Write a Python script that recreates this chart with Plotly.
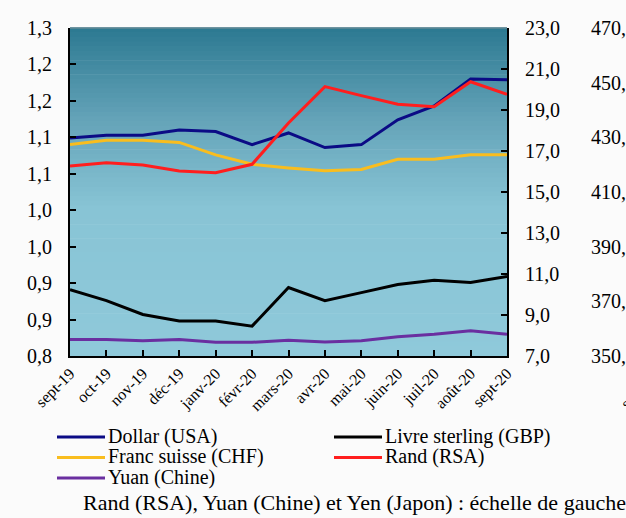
import plotly.graph_objects as go

# Monthly average exchange rates of the euro (1 EUR = ...)
months = ["sept-19", "oct-19", "nov-19", "déc-19", "janv-20", "févr-20", "mars-20",
          "avr-20", "mai-20", "juin-20", "juil-20", "août-20", "sept-20"]

dollar_usa = [1.099, 1.103, 1.103, 1.110, 1.108, 1.090, 1.106, 1.086, 1.090, 1.124, 1.143, 1.180, 1.179]
livre_gbp = [0.891, 0.876, 0.857, 0.848, 0.848, 0.841, 0.894, 0.876, 0.887, 0.898, 0.904, 0.901, 0.909]
franc_chf = [1.090, 1.096, 1.096, 1.093, 1.076, 1.063, 1.058, 1.054, 1.056, 1.070, 1.070, 1.076, 1.076]
rand_rsa = [16.27, 16.43, 16.32, 16.02, 15.94, 16.35, 18.37, 20.14, 19.70, 19.28, 19.16, 20.38, 19.77]
yuan_chine = [7.81, 7.81, 7.75, 7.81, 7.67, 7.67, 7.77, 7.68, 7.75, 7.94, 8.06, 8.23, 8.06]

left_ticks = [0.80, 0.85, 0.90, 0.95, 1.00, 1.05, 1.10, 1.15, 1.20, 1.25]
left_labels = ["0,8", "0,9", "0,9", "1,0", "1,0", "1,1", "1,1", "1,2", "1,2", "1,3"]
right_ticks = [7, 9, 11, 13, 15, 17, 19, 21, 23]
right_labels = ["7,0", "9,0", "11,0", "13,0", "15,0", "17,0", "19,0", "21,0", "23,0"]
yen_ticks = [350, 370, 390, 410, 430, 450, 470]
yen_labels = ["350,0", "370,0", "390,0", "410,0", "430,0", "450,0", "470,0"]

series = [
    ("Dollar (USA)", dollar_usa, "y", "#0B0B85"),
    ("Livre sterling (GBP)", livre_gbp, "y", "#000000"),
    ("Franc suisse (CHF)", franc_chf, "y", "#F9BD1E"),
    ("Rand (RSA)", rand_rsa, "y2", "#FF1E1E"),
    ("Yuan (Chine)", yuan_chine, "y2", "#6A2FA0"),
]

W, H = 626, 518
ML, MR, MT, MB = 70, 0, 28, 162
PW, PH = W - ML - MR, H - MT - MB
PLOT_RIGHT = 507
X_DOMAIN_END = (PLOT_RIGHT - ML) / PW
SERIF = "Liberation Serif, Times New Roman, serif"


def px_x(px):
    return (px - ML) / PW


def px_y(py):
    return (H - MB - py) / PH


fig = go.Figure()
for name, values, axis, color in series:
    fig.add_trace(go.Scatter(x=months, y=values, name=name, yaxis=axis, mode="lines",
                             line=dict(color=color, width=3), showlegend=False))
# keeps the third scale on the page
fig.add_trace(go.Scatter(x=[months[0]], y=[None], yaxis="y3", mode="lines",
                         showlegend=False, hoverinfo="skip"))

# vertical gradient of the plotting area
top_c = (44, 121, 145)
mid_c = (100, 163, 184)
low_c = (136, 196, 213)
bot_c = (143, 201, 218)


def mix(a, b, t):
    return tuple(round(a[i] + (b[i] - a[i]) * t) for i in range(3))


shapes = []
n_bands = 70
for k in range(n_bands):
    f = (k + 0.5) / n_bands  # fraction from top
    if f < 0.28:
        c = mix(top_c, mid_c, f / 0.28)
    elif f < 0.55:
        c = mix(mid_c, low_c, (f - 0.28) / 0.27)
    else:
        c = mix(low_c, bot_c, (f - 0.55) / 0.45)
    shapes.append(dict(type="rect", xref="x domain", yref="y domain", layer="below",
                       x0=0, x1=1, y0=1 - (k + 1) / n_bands, y1=1 - k / n_bands + 0.002,
                       line=dict(width=0), fillcolor="rgb(%d,%d,%d)" % c))
shapes.append(dict(type="line", xref="x domain", yref="y domain", x0=0, x1=1, y0=1, y1=1,
                   line=dict(color="#7d8f96", width=1)))

# legend drawn as swatches and labels in two columns
legend_pos = {
    "Dollar (USA)": (57, 437),
    "Livre sterling (GBP)": (334, 437),
    "Franc suisse (CHF)": (57, 457.5),
    "Rand (RSA)": (334, 457.5),
    "Yuan (Chine)": (57, 478),
}
annotations = []
for name, values, axis, color in series:
    lx, ly = legend_pos[name]
    shapes.append(dict(type="line", xref="paper", yref="paper",
                       x0=px_x(lx), x1=px_x(lx + 48), y0=px_y(ly), y1=px_y(ly),
                       line=dict(color=color, width=3)))
    annotations.append(dict(text=name, xref="paper", yref="paper", x=px_x(lx + 49), y=px_y(ly - 1),
                            xanchor="left", yanchor="middle", showarrow=False,
                            font=dict(family=SERIF, size=20, color="black")))

annotations.append(dict(text="Rand (RSA), Yuan (Chine) et Yen (Japon) : échelle de gauche",
                        xref="paper", yref="paper", x=px_x(81), y=px_y(502),
                        xanchor="left", yanchor="middle", showarrow=False,
                        font=dict(family=SERIF, size=22, color="black")))
# first month label of the neighbouring chart, running off the page edge
annotations.append(dict(text="sept-19", xref="paper", yref="paper", x=px_x(640), y=px_y(390),
                        xanchor="center", yanchor="middle", showarrow=False, textangle=-45,
                        font=dict(family=SERIF, size=16, color="black")))

fig.update_layout(
    width=W, height=H,
    margin=dict(l=ML, r=MR, t=MT, b=MB, pad=0, autoexpand=False),
    paper_bgcolor="#fbfbfb",
    plot_bgcolor="rgba(0,0,0,0)",
    font=dict(family=SERIF, size=20, color="black"),
    showlegend=False,
    shapes=shapes,
    annotations=annotations,
    xaxis=dict(domain=[0, X_DOMAIN_END], type="category", range=[0, len(months) - 1],
               showline=True, linecolor="black", linewidth=2, showgrid=False, zeroline=False,
               ticks="inside", ticklen=6, tickwidth=1.5, tickcolor="black",
               tickangle=-45, tickfont=dict(family=SERIF, size=16)),
    yaxis=dict(range=[0.8, 1.25], tickvals=left_ticks, ticktext=left_labels,
               showline=True, linecolor="black", linewidth=2, showgrid=False, zeroline=False,
               ticks="inside", ticklen=6, tickwidth=1.5, tickcolor="black",
               ticklabelstandoff=12, tickfont=dict(family=SERIF, size=20)),
    yaxis2=dict(range=[7, 23], tickvals=right_ticks, ticktext=right_labels,
                overlaying="y", side="right", anchor="x",
                showline=True, linecolor="black", linewidth=2, showgrid=False, zeroline=False,
                ticks="inside", ticklen=6, tickwidth=1.5, tickcolor="black",
                ticklabelstandoff=12, tickfont=dict(family=SERIF, size=20)),
    yaxis3=dict(range=[350, 470], tickvals=yen_ticks, ticktext=yen_labels,
                overlaying="y", side="right", anchor="free", position=px_x(590),
                showline=False, showgrid=False, zeroline=False, ticks="",
                tickfont=dict(family=SERIF, size=20)),
)

fig.write_html("out.html")
